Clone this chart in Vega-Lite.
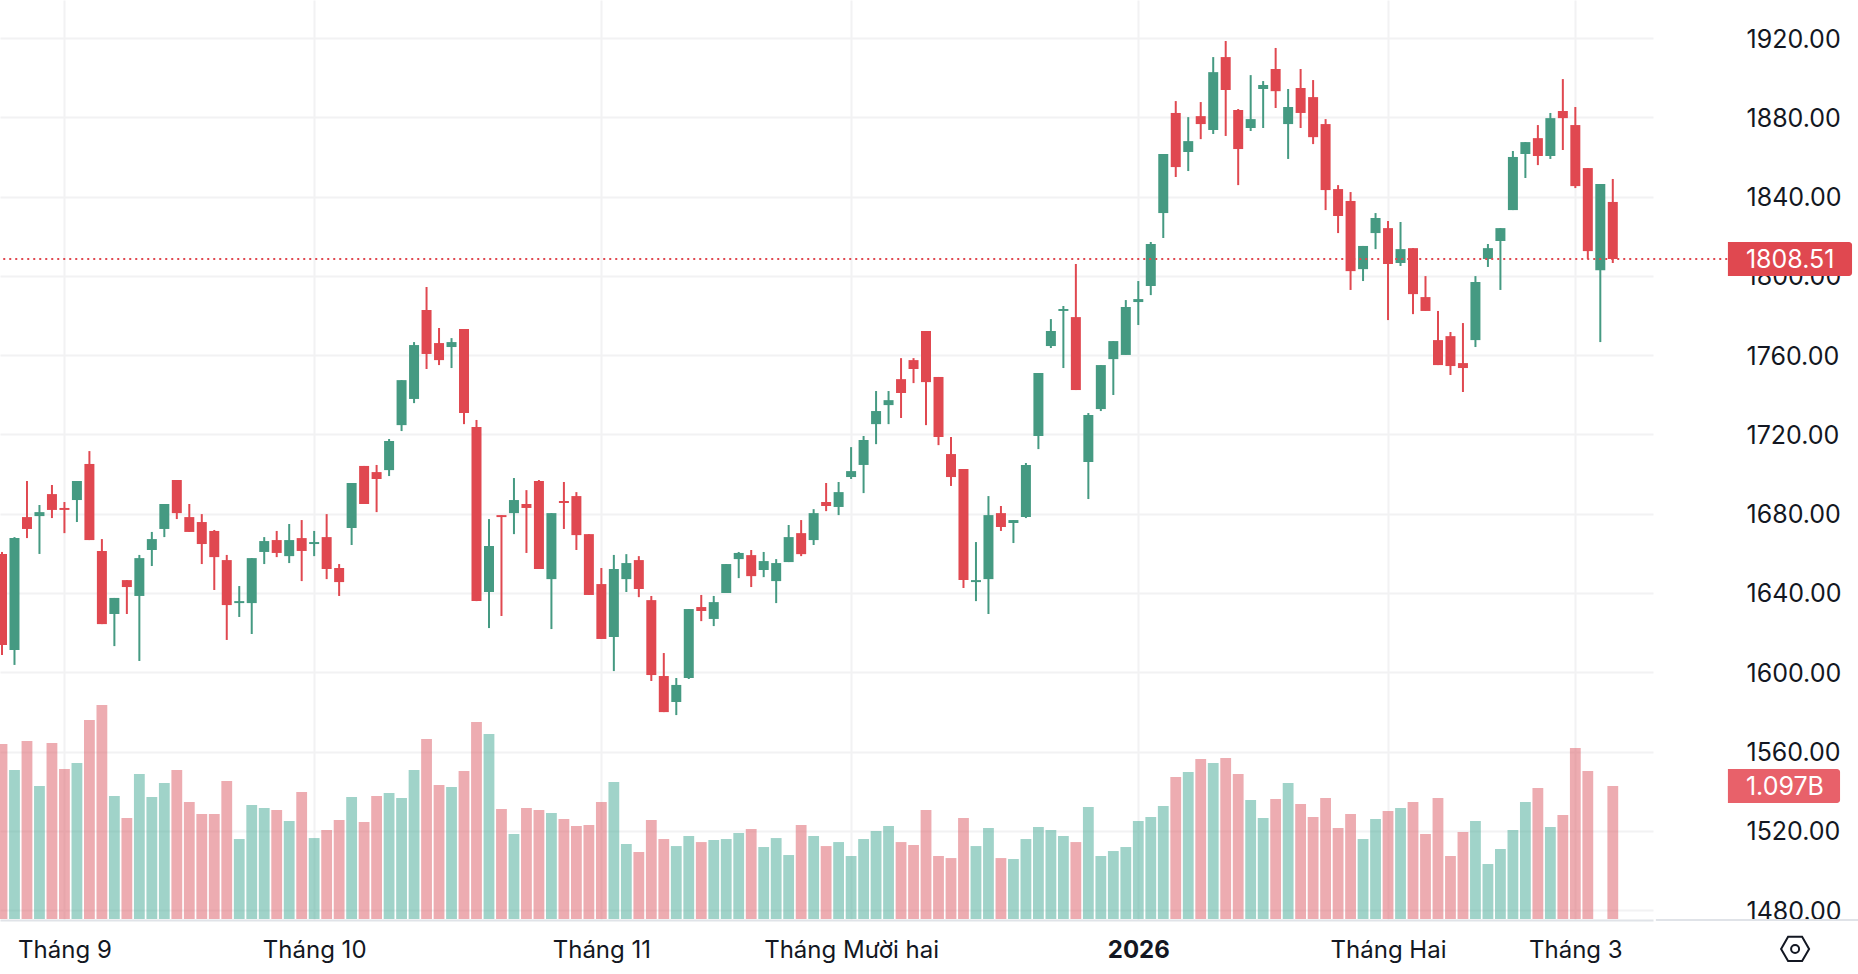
{
  "$schema": "https://vega.github.io/schema/vega-lite/v6.json",
  "width": 1653,
  "height": 920,
  "autosize": {"type": "none"},
  "padding": {"left": 0, "top": 0, "right": 205, "bottom": 54},
  "background": "white",
  "config": {
    "view": {"stroke": null},
    "font": "Inter",
    "axis": {"labelFont": "Inter", "labelFontSize": 25, "labelColor": "#131722", "title": null, "ticks": false, "grid": true, "gridColor": "#f2f2f3", "gridWidth": 2}
  },
  "datasets": {
    "bars": [
      {"i":0,"o":1659.7,"h":1660.7,"l":1608.7,"c":1613.7,"v":1.444},
      {"i":1,"o":1611.2,"h":1668.2,"l":1603.7,"c":1667.7,"v":1.229},
      {"i":2,"o":1678.3,"h":1696.5,"l":1667.7,"c":1672.3,"v":1.469},
      {"i":3,"o":1678.8,"h":1684.4,"l":1659.7,"c":1680.8,"v":1.097},
      {"i":4,"o":1689.9,"h":1694.5,"l":1677.8,"c":1681.9,"v":1.452},
      {"i":5,"o":1682.9,"h":1685.9,"l":1670.2,"c":1681.9,"v":1.238},
      {"i":6,"o":1686.9,"h":1696.5,"l":1675.8,"c":1696.5,"v":1.287},
      {"i":7,"o":1705.1,"h":1711.6,"l":1666.7,"c":1666.7,"v":1.642},
      {"i":8,"o":1661.2,"h":1667.2,"l":1624.3,"c":1624.3,"v":1.766},
      {"i":9,"o":1629.4,"h":1637.5,"l":1613.2,"c":1637.5,"v":1.015},
      {"i":10,"o":1646.5,"h":1646.5,"l":1629.4,"c":1643.0,"v":0.833},
      {"i":11,"o":1638.5,"h":1659.2,"l":1605.7,"c":1657.6,"v":1.196},
      {"i":12,"o":1661.7,"h":1670.8,"l":1653.6,"c":1667.2,"v":1.007},
      {"i":13,"o":1672.3,"h":1684.9,"l":1668.2,"c":1684.9,"v":1.122},
      {"i":14,"o":1697.0,"h":1697.0,"l":1677.3,"c":1680.3,"v":1.229},
      {"i":15,"o":1678.3,"h":1684.9,"l":1670.8,"c":1670.8,"v":0.965},
      {"i":16,"o":1675.8,"h":1679.8,"l":1654.6,"c":1664.7,"v":0.866},
      {"i":17,"o":1671.3,"h":1671.8,"l":1641.5,"c":1658.1,"v":0.866},
      {"i":18,"o":1656.6,"h":1659.2,"l":1616.3,"c":1633.9,"v":1.139},
      {"i":19,"o":1634.9,"h":1643.5,"l":1627.9,"c":1635.9,"v":0.66},
      {"i":20,"o":1634.9,"h":1657.6,"l":1619.3,"c":1657.6,"v":0.941},
      {"i":21,"o":1660.7,"h":1668.2,"l":1654.6,"c":1666.2,"v":0.916},
      {"i":22,"o":1666.7,"h":1671.3,"l":1658.1,"c":1660.2,"v":0.899},
      {"i":23,"o":1658.6,"h":1674.8,"l":1655.1,"c":1666.7,"v":0.809},
      {"i":24,"o":1667.7,"h":1676.8,"l":1646.0,"c":1661.2,"v":1.048},
      {"i":25,"o":1664.7,"h":1671.3,"l":1658.6,"c":1665.7,"v":0.668},
      {"i":26,"o":1668.2,"h":1679.8,"l":1647.0,"c":1652.1,"v":0.734},
      {"i":27,"o":1652.6,"h":1654.6,"l":1638.5,"c":1645.5,"v":0.817},
      {"i":28,"o":1672.8,"h":1695.5,"l":1664.2,"c":1695.5,"v":1.007},
      {"i":29,"o":1704.1,"h":1704.1,"l":1684.9,"c":1684.9,"v":0.8},
      {"i":30,"o":1701.0,"h":1704.6,"l":1680.8,"c":1697.5,"v":1.015},
      {"i":31,"o":1702.0,"h":1717.7,"l":1699.0,"c":1716.7,"v":1.04},
      {"i":32,"o":1724.7,"h":1747.4,"l":1721.7,"c":1747.4,"v":0.998},
      {"i":33,"o":1737.9,"h":1766.6,"l":1735.8,"c":1765.1,"v":1.229},
      {"i":34,"o":1782.8,"h":1794.4,"l":1753.0,"c":1760.6,"v":1.485},
      {"i":35,"o":1766.1,"h":1773.7,"l":1755.0,"c":1757.5,"v":1.106},
      {"i":36,"o":1764.1,"h":1768.6,"l":1753.5,"c":1766.6,"v":1.089},
      {"i":37,"o":1773.2,"h":1773.2,"l":1725.2,"c":1730.8,"v":1.221},
      {"i":38,"o":1723.7,"h":1727.3,"l":1635.9,"c":1635.9,"v":1.625},
      {"i":39,"o":1640.5,"h":1677.3,"l":1622.3,"c":1663.7,"v":1.526},
      {"i":40,"o":1679.3,"h":1679.3,"l":1628.4,"c":1678.3,"v":0.908},
      {"i":41,"o":1680.3,"h":1698.0,"l":1669.7,"c":1686.9,"v":0.701},
      {"i":42,"o":1684.9,"h":1691.9,"l":1660.2,"c":1682.9,"v":0.916},
      {"i":43,"o":1696.5,"h":1697.0,"l":1652.1,"c":1652.1,"v":0.899},
      {"i":44,"o":1647.0,"h":1680.3,"l":1621.8,"c":1680.3,"v":0.875},
      {"i":45,"o":1686.4,"h":1696.0,"l":1672.3,"c":1685.4,"v":0.825},
      {"i":46,"o":1688.9,"h":1690.9,"l":1661.7,"c":1669.2,"v":0.767},
      {"i":47,"o":1669.7,"h":1669.7,"l":1639.0,"c":1639.0,"v":0.776},
      {"i":48,"o":1644.5,"h":1652.6,"l":1616.8,"c":1616.8,"v":0.965},
      {"i":49,"o":1617.8,"h":1659.2,"l":1600.6,"c":1652.1,"v":1.13},
      {"i":50,"o":1647.0,"h":1659.6,"l":1640.5,"c":1655.1,"v":0.619},
      {"i":51,"o":1656.6,"h":1658.6,"l":1637.9,"c":1642.0,"v":0.553},
      {"i":52,"o":1636.4,"h":1638.5,"l":1595.6,"c":1598.6,"v":0.817},
      {"i":53,"o":1598.1,"h":1609.7,"l":1579.9,"c":1579.9,"v":0.66},
      {"i":54,"o":1585.0,"h":1597.1,"l":1578.4,"c":1593.6,"v":0.602},
      {"i":55,"o":1597.1,"h":1631.9,"l":1596.6,"c":1631.9,"v":0.685},
      {"i":56,"o":1632.9,"h":1639.0,"l":1625.8,"c":1630.9,"v":0.635},
      {"i":57,"o":1626.9,"h":1638.5,"l":1623.3,"c":1635.4,"v":0.652},
      {"i":58,"o":1640.0,"h":1654.6,"l":1640.0,"c":1654.6,"v":0.66},
      {"i":59,"o":1657.1,"h":1660.7,"l":1647.5,"c":1660.2,"v":0.71},
      {"i":60,"o":1659.1,"h":1661.7,"l":1643.0,"c":1648.5,"v":0.743},
      {"i":61,"o":1651.6,"h":1660.7,"l":1648.0,"c":1656.1,"v":0.594},
      {"i":62,"o":1646.0,"h":1657.1,"l":1634.9,"c":1655.1,"v":0.668},
      {"i":63,"o":1655.6,"h":1674.3,"l":1655.6,"c":1668.2,"v":0.528},
      {"i":64,"o":1670.2,"h":1676.8,"l":1658.6,"c":1659.6,"v":0.776},
      {"i":65,"o":1666.7,"h":1682.3,"l":1664.2,"c":1680.3,"v":0.685},
      {"i":66,"o":1685.9,"h":1695.5,"l":1681.3,"c":1683.9,"v":0.602},
      {"i":67,"o":1683.4,"h":1696.0,"l":1679.3,"c":1690.9,"v":0.635},
      {"i":68,"o":1698.5,"h":1713.6,"l":1697.5,"c":1701.5,"v":0.52},
      {"i":69,"o":1704.6,"h":1719.2,"l":1690.4,"c":1717.2,"v":0.66},
      {"i":70,"o":1725.2,"h":1741.9,"l":1715.1,"c":1731.8,"v":0.726},
      {"i":71,"o":1734.8,"h":1741.9,"l":1725.2,"c":1737.3,"v":0.767},
      {"i":72,"o":1747.9,"h":1758.5,"l":1728.3,"c":1740.9,"v":0.635},
      {"i":73,"o":1757.5,"h":1758.5,"l":1745.9,"c":1753.0,"v":0.611},
      {"i":74,"o":1772.2,"h":1772.2,"l":1724.7,"c":1746.4,"v":0.899},
      {"i":75,"o":1749.0,"h":1749.0,"l":1714.6,"c":1718.7,"v":0.52},
      {"i":76,"o":1710.1,"h":1718.7,"l":1694.0,"c":1698.5,"v":0.503},
      {"i":77,"o":1702.5,"h":1702.5,"l":1642.5,"c":1646.5,"v":0.833},
      {"i":78,"o":1645.5,"h":1665.7,"l":1635.9,"c":1646.5,"v":0.602},
      {"i":79,"o":1647.0,"h":1688.9,"l":1629.4,"c":1679.3,"v":0.751},
      {"i":80,"o":1680.3,"h":1683.9,"l":1671.3,"c":1673.3,"v":0.503},
      {"i":81,"o":1675.3,"h":1676.8,"l":1665.2,"c":1676.8,"v":0.495},
      {"i":82,"o":1678.3,"h":1705.6,"l":1677.8,"c":1704.6,"v":0.66},
      {"i":83,"o":1719.2,"h":1751.0,"l":1712.6,"c":1751.0,"v":0.759},
      {"i":84,"o":1764.6,"h":1778.2,"l":1763.6,"c":1772.2,"v":0.734},
      {"i":85,"o":1782.3,"h":1784.8,"l":1753.5,"c":1783.3,"v":0.685},
      {"i":86,"o":1779.2,"h":1806.0,"l":1742.4,"c":1742.4,"v":0.635},
      {"i":87,"o":1706.1,"h":1730.8,"l":1687.4,"c":1729.8,"v":0.924},
      {"i":88,"o":1732.8,"h":1755.0,"l":1731.8,"c":1755.0,"v":0.52},
      {"i":89,"o":1758.0,"h":1767.1,"l":1739.9,"c":1767.1,"v":0.561},
      {"i":90,"o":1760.1,"h":1787.8,"l":1760.1,"c":1784.3,"v":0.594},
      {"i":91,"o":1786.8,"h":1797.4,"l":1775.2,"c":1788.3,"v":0.809},
      {"i":92,"o":1794.9,"h":1817.1,"l":1790.3,"c":1816.1,"v":0.842},
      {"i":93,"o":1831.7,"h":1861.5,"l":1819.1,"c":1861.5,"v":0.932},
      {"i":94,"o":1882.2,"h":1888.2,"l":1849.9,"c":1854.9,"v":1.172},
      {"i":95,"o":1862.5,"h":1880.1,"l":1852.9,"c":1868.0,"v":1.213},
      {"i":96,"o":1880.6,"h":1887.7,"l":1869.0,"c":1876.6,"v":1.32},
      {"i":97,"o":1873.6,"h":1910.4,"l":1871.6,"c":1902.8,"v":1.287},
      {"i":98,"o":1910.4,"h":1918.5,"l":1870.6,"c":1893.8,"v":1.328},
      {"i":99,"o":1883.7,"h":1884.2,"l":1845.8,"c":1864.0,"v":1.196},
      {"i":100,"o":1874.6,"h":1901.3,"l":1873.1,"c":1879.1,"v":0.982},
      {"i":101,"o":1894.3,"h":1898.3,"l":1874.6,"c":1896.3,"v":0.833},
      {"i":102,"o":1904.4,"h":1915.0,"l":1884.7,"c":1893.2,"v":0.99},
      {"i":103,"o":1876.6,"h":1894.3,"l":1859.0,"c":1885.2,"v":1.122},
      {"i":104,"o":1894.8,"h":1904.4,"l":1874.6,"c":1882.2,"v":0.949},
      {"i":105,"o":1890.2,"h":1898.8,"l":1866.5,"c":1870.0,"v":0.842},
      {"i":106,"o":1876.6,"h":1879.1,"l":1833.2,"c":1843.3,"v":0.998},
      {"i":107,"o":1843.8,"h":1845.8,"l":1821.6,"c":1830.2,"v":0.751},
      {"i":108,"o":1837.8,"h":1842.3,"l":1792.9,"c":1802.4,"v":0.866},
      {"i":109,"o":1803.4,"h":1815.1,"l":1797.4,"c":1815.1,"v":0.66},
      {"i":110,"o":1821.6,"h":1831.7,"l":1813.5,"c":1829.2,"v":0.825},
      {"i":111,"o":1824.1,"h":1827.7,"l":1777.7,"c":1806.0,"v":0.891},
      {"i":112,"o":1806.5,"h":1827.2,"l":1805.0,"c":1813.5,"v":0.916},
      {"i":113,"o":1814.0,"h":1814.0,"l":1780.7,"c":1790.8,"v":0.965},
      {"i":114,"o":1789.3,"h":1799.9,"l":1782.3,"c":1782.3,"v":0.701},
      {"i":115,"o":1767.6,"h":1782.3,"l":1755.0,"c":1755.0,"v":0.998},
      {"i":116,"o":1769.6,"h":1771.7,"l":1750.0,"c":1754.5,"v":0.52},
      {"i":117,"o":1756.0,"h":1776.2,"l":1741.4,"c":1753.5,"v":0.718},
      {"i":118,"o":1767.6,"h":1799.9,"l":1764.1,"c":1796.9,"v":0.809},
      {"i":119,"o":1808.5,"h":1816.1,"l":1804.5,"c":1814.0,"v":0.454},
      {"i":120,"o":1817.6,"h":1824.1,"l":1792.9,"c":1824.1,"v":0.578},
      {"i":121,"o":1833.2,"h":1863.0,"l":1833.2,"c":1860.0,"v":0.734},
      {"i":122,"o":1861.5,"h":1867.5,"l":1849.4,"c":1867.5,"v":0.965},
      {"i":123,"o":1869.5,"h":1876.1,"l":1855.9,"c":1860.5,"v":1.081},
      {"i":124,"o":1860.5,"h":1882.2,"l":1859.0,"c":1879.6,"v":0.759},
      {"i":125,"o":1883.2,"h":1899.3,"l":1863.5,"c":1879.6,"v":0.858},
      {"i":126,"o":1876.1,"h":1885.2,"l":1844.3,"c":1845.3,"v":1.411},
      {"i":127,"o":1854.4,"h":1854.4,"l":1808.5,"c":1812.5,"v":1.221},
      {"i":128,"o":1802.9,"h":1846.3,"l":1766.6,"c":1846.3},
      {"i":129,"o":1837.3,"h":1848.9,"l":1806.5,"c":1808.51,"v":1.097}
    ]
  },
  "layer": [
    {
      "data": {"name": "bars"},
      "mark": {"type": "rule", "opacity": 0},
      "encoding": {
        "x": {
          "field": "i", "type": "quantitative",
          "scale": {"domain": [-0.16, 132.22], "nice": false, "zero": false, "padding": 0},
          "axis": {
            "orient": "bottom", "values": [5, 25, 48, 68, 91, 111, 126], "labelOverlap": false, "labelPadding": 30, "labelBaseline": "middle", "labelFlush": false, "labelFontSize": 24, "labelLimit": 400,
            "labelExpr": "{'5':'Tháng 9','25':'Tháng 10','48':'Tháng 11','68':'Tháng Mười hai','91':'2026','111':'Tháng Hai','126':'Tháng 3'}[datum.value]",
            "labelFontWeight": {"condition": {"test": "datum.value === 91", "value": "bold"}, "value": "normal"},
            "domain": true, "domainColor": "#e0e3e8", "domainWidth": 2
          }
        },
        "y": {
          "field": "l", "type": "quantitative",
          "scale": {"domain": [1475, 1939.2], "nice": false, "zero": false, "padding": 0},
          "axis": {"orient": "right", "values": [1480, 1520, 1560, 1600, 1640, 1680, 1720, 1760, 1800, 1840, 1880, 1920], "format": ".2f", "domain": false, "labelAlign": "left", "labelPadding": 93, "labelBaseline": "middle", "labelOffset": 1}
        }
      }
    },
    {
      "layer": [
        {
          "data": {"name": "bars"},
          "transform": [{"filter": "isValid(datum.v)"}],
          "mark": {"type": "bar", "size": 10.8, "opacity": 0.5},
          "encoding": {
            "x": {"field": "i", "type": "quantitative", "scale": {"domain": [-0.16, 132.22], "nice": false, "zero": false, "padding": 0}},
            "y": {"field": "v", "type": "quantitative", "scale": {"domain": [-0.008, 7.582], "nice": false, "zero": false, "padding": 0}, "axis": null},
            "y2": {"datum": 0},
            "color": {"condition": {"test": "datum.c >= datum.o", "value": "#41a793"}, "value": "#dc5a64"}
          }
        },
        {
          "data": {"values": [{"label": "1.097B", "value": 1.097}]},
          "mark": {"type": "rect", "color": "#e8616a", "cornerRadiusTopRight": 3, "cornerRadiusBottomRight": 3},
          "encoding": {
            "x": {"datum": 138.22, "type": "quantitative", "scale": {"domain": [-0.16, 132.22], "nice": false, "zero": false, "padding": 0}},
            "x2": {"datum": 147.2},
            "y": {"datum": 1.2376, "type": "quantitative", "scale": {"domain": [-0.008, 7.582], "nice": false, "zero": false, "padding": 0}, "axis": null},
            "y2": {"datum": 0.957}
          }
        },
        {
          "data": {"values": [{"label": "1.097B", "value": 1.097}]},
          "mark": {"type": "text", "align": "left", "baseline": "middle", "dy": 1, "font": "Inter", "fontSize": 25, "color": "white"},
          "encoding": {
            "x": {"datum": 139.66, "type": "quantitative", "scale": {"domain": [-0.16, 132.22], "nice": false, "zero": false, "padding": 0}},
            "y": {"field": "value", "type": "quantitative", "scale": {"domain": [-0.008, 7.582], "nice": false, "zero": false, "padding": 0}, "axis": null},
            "text": {"field": "label"}
          }
        }
      ]
    },
    {
      "layer": [
        {
          "data": {"name": "bars"},
          "mark": {"type": "rule", "strokeWidth": 2},
          "encoding": {
            "x": {"field": "i", "type": "quantitative", "scale": {"domain": [-0.16, 132.22], "nice": false, "zero": false, "padding": 0}},
            "y": {"field": "l", "type": "quantitative", "scale": {"domain": [1475, 1939.2], "nice": false, "zero": false, "padding": 0}, "axis": null},
            "y2": {"field": "h"},
            "color": {"condition": {"test": "datum.c >= datum.o", "value": "#459a82"}, "value": "#e04850"}
          }
        },
        {
          "data": {"name": "bars"},
          "mark": {"type": "bar", "size": 10},
          "encoding": {
            "x": {"field": "i", "type": "quantitative", "scale": {"domain": [-0.16, 132.22], "nice": false, "zero": false, "padding": 0}},
            "y": {"field": "o", "type": "quantitative", "scale": {"domain": [1475, 1939.2], "nice": false, "zero": false, "padding": 0}, "axis": null},
            "y2": {"field": "c"},
            "color": {"condition": {"test": "datum.c >= datum.o", "value": "#459a82"}, "value": "#e04850"}
          }
        },
        {
          "data": {"values": [{"price": 1808.51, "label": "1808.51"}]},
          "mark": {"type": "rule", "color": "#e04850", "strokeWidth": 2, "strokeDash": [2, 4]},
          "encoding": {
            "x": {"datum": 0.1, "type": "quantitative", "scale": {"domain": [-0.16, 132.22], "nice": false, "zero": false, "padding": 0}},
            "x2": {"datum": 138.22},
            "y": {"field": "price", "type": "quantitative", "scale": {"domain": [1475, 1939.2], "nice": false, "zero": false, "padding": 0}, "axis": null}
          }
        },
        {
          "data": {"values": [{"price": 1808.51, "label": "1808.51"}]},
          "mark": {"type": "rect", "color": "#e04850", "cornerRadiusTopRight": 3, "cornerRadiusBottomRight": 3},
          "encoding": {
            "x": {"datum": 138.22, "type": "quantitative", "scale": {"domain": [-0.16, 132.22], "nice": false, "zero": false, "padding": 0}},
            "x2": {"datum": 148.16},
            "y": {"datum": 1817.1, "type": "quantitative", "scale": {"domain": [1475, 1939.2], "nice": false, "zero": false, "padding": 0}, "axis": null},
            "y2": {"datum": 1799.9}
          }
        },
        {
          "data": {"values": [{"price": 1808.51, "label": "1808.51"}]},
          "mark": {"type": "text", "align": "left", "baseline": "middle", "dy": 1, "font": "Inter", "fontSize": 25, "color": "white"},
          "encoding": {
            "x": {"datum": 139.66, "type": "quantitative", "scale": {"domain": [-0.16, 132.22], "nice": false, "zero": false, "padding": 0}},
            "y": {"field": "price", "type": "quantitative", "scale": {"domain": [1475, 1939.2], "nice": false, "zero": false, "padding": 0}, "axis": null},
            "text": {"field": "label"}
          }
        },
        {
          "data": {"values": [{"bottom": 1475}]},
          "mark": {"type": "rule", "color": "#e0e3e8", "strokeWidth": 2},
          "encoding": {
            "x": {"datum": 132.45, "type": "quantitative", "scale": {"domain": [-0.16, 132.22], "nice": false, "zero": false, "padding": 0}},
            "x2": {"datum": 148.7},
            "y": {"field": "bottom", "type": "quantitative", "scale": {"domain": [1475, 1939.2], "nice": false, "zero": false, "padding": 0}, "axis": null}
          }
        },
        {
          "data": {"values": [{"icon": "settings"}]},
          "mark": {"type": "point", "shape": "M-1,0 L-0.5,-0.866 L0.5,-0.866 L1,0 L0.5,0.866 L-0.5,0.866 Z", "filled": false, "color": "#131722", "strokeWidth": 2, "size": 784, "opacity": 1},
          "encoding": {
            "x": {"datum": 143.6, "type": "quantitative", "scale": {"domain": [-0.16, 132.22], "nice": false, "zero": false, "padding": 0}},
            "y": {"datum": 1460.4, "type": "quantitative", "scale": {"domain": [1475, 1939.2], "nice": false, "zero": false, "padding": 0}, "axis": null}
          }
        },
        {
          "data": {"values": [{"icon": "settings"}]},
          "mark": {"type": "point", "shape": "circle", "filled": false, "color": "#131722", "strokeWidth": 2, "size": 64, "opacity": 1},
          "encoding": {
            "x": {"datum": 143.6, "type": "quantitative", "scale": {"domain": [-0.16, 132.22], "nice": false, "zero": false, "padding": 0}},
            "y": {"datum": 1460.4, "type": "quantitative", "scale": {"domain": [1475, 1939.2], "nice": false, "zero": false, "padding": 0}, "axis": null}
          }
        }
      ]
    }
  ],
  "resolve": {"scale": {"y": "independent"}, "axis": {"y": "independent"}}
}
